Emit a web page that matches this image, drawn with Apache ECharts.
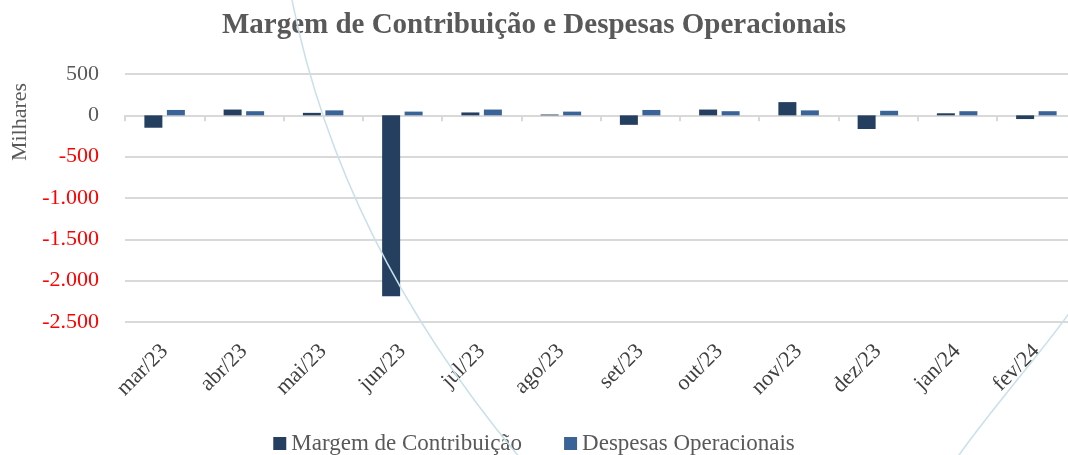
<!DOCTYPE html>
<html>
<head>
<meta charset="utf-8">
<script src="https://cdn.jsdelivr.net/npm/echarts@6/dist/echarts.min.js"></script>
<style>
  html, body { margin: 0; padding: 0; background: #fff; }
  #chart { width: 1068px; height: 455px; }
</style>
</head>
<body>
<div id="chart"></div>
<script>
const months = ['mar/23', 'abr/23', 'mai/23', 'jun/23', 'jul/23', 'ago/23',
  'set/23', 'out/23', 'nov/23', 'dez/23', 'jan/24', 'fev/24'];
// valores em milhares
const margem = [-150, 70, 30, -2190, 35, 10, -115, 70, 160, -165, 25, -45];
const despesas = [65, 50, 60, 45, 70, 45, 65, 50, 60, 55, 50, 50];
const yMin = -2500;
const yMax = 500;
const yStep = 500;

const serif = '"Liberation Serif", "DejaVu Serif", serif';
const chart = echarts.init(document.getElementById('chart'));

function fmt(v) {
  // separador de milhar com ponto
  const s = Math.abs(v).toString().replace(/\B(?=(\d{3})+(?!\d))/g, '.');
  return (v < 0 ? '-' : '') + s;
}

chart.setOption({
  animation: false,
  title: {
    text: 'Margem de Contribuição e Despesas Operacionais',
    left: 'center',
    top: 6,
    textStyle: { fontFamily: serif, fontSize: 29, fontWeight: 'bold', color: '#595959' }
  },
  legend: {
    bottom: -5,
    left: 'center',
    itemWidth: 13,
    itemHeight: 13,
    itemGap: 42,
    icon: 'rect',
    textStyle: { fontFamily: serif, fontSize: 23, color: '#595959' },
    data: ['Margem de Contribuição', 'Despesas Operacionais']
  },
  grid: { left: 125, top: 74, height: 248, width: 951, outerBoundsMode: 'none' },
  xAxis: {
    type: 'category',
    data: months,
    axisLine: { onZero: true, lineStyle: { color: '#d9d9d9', width: 2 } },
    axisTick: { show: true, length: 6, lineStyle: { color: '#d9d9d9', width: 2 } },
    axisLabel: {
      interval: 0,
      rotate: 45,
      margin: 26,
      fontFamily: serif,
      fontSize: 22,
      color: '#404040'
    }
  },
  yAxis: {
    type: 'value',
    min: yMin,
    max: yMax,
    interval: yStep,
    axisLine: { show: false },
    axisTick: { show: false },
    splitLine: { lineStyle: { color: '#d9d9d9', width: 2 } },
    axisLabel: {
      margin: 26,
      fontFamily: serif,
      fontSize: 22,
      formatter: fmt,
      color: function (v) { return v < 0 ? '#ff0000' : '#595959'; }
    }
  },
  series: [
    {
      name: 'Margem de Contribuição',
      type: 'bar',
      data: margem,
      barWidth: 18,
      barGap: '25%',
      itemStyle: { color: '#253f61' }
    },
    {
      name: 'Despesas Operacionais',
      type: 'bar',
      data: despesas,
      barWidth: 18,
      itemStyle: { color: '#3a6497' }
    }
  ],
  graphic: [
    {
      // título do eixo Y
      type: 'text',
      x: 20,
      y: 122,
      rotation: Math.PI / 2,
      silent: true,
      style: {
        text: 'Milhares',
        fontFamily: serif,
        fontSize: 22,
        fill: '#595959',
        align: 'center',
        verticalAlign: 'middle'
      }
    },
    {
      type: 'bezierCurve',
      silent: true,
      z: 100,
      shape: { x1: 292, y1: 0, cpx1: 322, cpy1: 150, cpx2: 392, cpy2: 305, x2: 520, y2: 458 },
      style: { stroke: '#c9e0ea', lineWidth: 1.5, fill: null }
    },
    {
      type: 'bezierCurve',
      silent: true,
      z: 100,
      shape: { x1: 957, y1: 458, cpx1: 988, cpy1: 413, cpx2: 1038, cpy2: 357, x2: 1070, y2: 312 },
      style: { stroke: '#c9e0ea', lineWidth: 1.5, fill: null }
    }
  ]
});
</script>
</body>
</html>
